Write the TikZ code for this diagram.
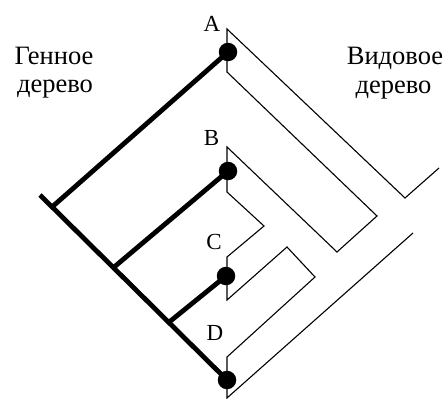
\documentclass[tikz,border=0pt]{standalone}
\usepackage{fontspec}
\setmainfont{Liberation Serif}
\begin{document}
\begin{tikzpicture}[x=1pt,y=-1pt,
  gene/.style={line width=4.8pt},
  species/.style={line width=1.1pt, line join=miter},
  dot/.style={circle, fill=black, inner sep=0pt, minimum size=18.5pt},
  tip/.style={font=\fontsize{23}{23}\selectfont, inner sep=0pt},
  caption/.style={font=\fontsize{26.5}{28}\selectfont, inner sep=0pt, anchor=base}]
\useasboundingbox (0,0) rectangle (448,399);

% species tree, drawn as the outline of a tube
\draw[species] (439,168) -- (405,198) -- (227,29) -- (227,72)
  -- (377,216) -- (337,252) -- (227,147) -- (227,192)
  -- (264,226) -- (227,257) -- (227,300)
  -- (287,247) -- (315,277) -- (227,357) -- (227,398) -- (413,233);

% gene tree: leaves
\node[dot] (dA) at (228,52) {};
\node[dot] (dB) at (228,171) {};
\node[dot] (dC) at (226,276) {};
\node[dot] (dD) at (227,380) {};

% gene tree: inner nodes on the backbone
\coordinate (groot) at (40,195);
\coordinate (jA) at (52,207);
\coordinate (jB) at (113,268);
\coordinate (jC) at (168,323);

\draw[gene] (groot) -- (dD.center);
\draw[gene] (jA) -- (dA.center);
\draw[gene] (jB) -- (dB.center);
\draw[gene] (jC) -- (dC.center);

% leaf labels
\node[tip] (lA) at (212,24) {A};
\node[tip] (lB) at (211.5,138) {B};
\node[tip] (lC) at (214,242) {C};
\node[tip] (lD) at (215,333) {D};

% captions
\node[caption] (g1) at (54,64) {Генное};
\node[caption] (g2) at (55,92) {дерево};
\node[caption] (s1) at (395,64) {Видовое};
\node[caption] (s2) at (393.5,93) {дерево};
\end{tikzpicture}
\end{document}
